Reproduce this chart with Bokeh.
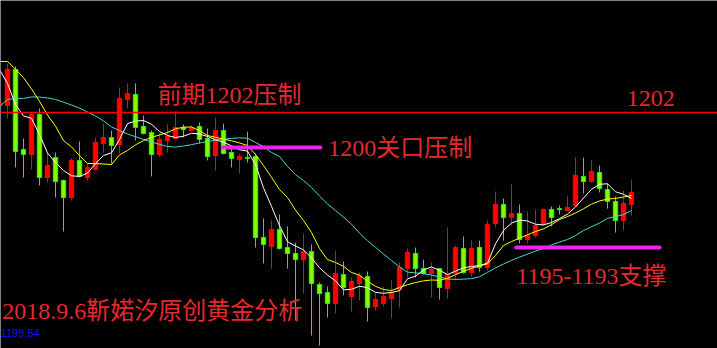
from bokeh.plotting import figure
from bokeh.models import ColumnDataSource, Range1d, Label
from bokeh.embed import file_html
from bokeh.resources import INLINE

# ---- data ----
opens = [1202.35, 1202.35, 1204.47, 1199.76, 1199.47, 1201.82, 1198.12, 1199.29, 1197.94, 1196.94,
         1199.12, 1198.12, 1198.59, 1200.12, 1200.47, 1200.06, 1202.71, 1203.00, 1201.12, 1200.76,
         1199.47, 1200.29, 1200.41, 1201.06, 1200.88, 1201.12, 1200.41, 1199.41, 1200.88, 1199.59,
         1199.18, 1199.29, 1199.35, 1194.59, 1194.06, 1195.06, 1194.00, 1193.65, 1193.29, 1193.76,
         1191.82, 1191.35, 1190.71, 1192.41, 1191.12, 1191.88, 1192.29, 1190.53, 1190.71, 1191.00,
         1191.53, 1192.76, 1193.65, 1192.76, 1192.47, 1192.76, 1191.59, 1192.47, 1193.94, 1192.53,
         1194.00, 1192.82, 1195.41, 1196.53, 1195.76, 1196.00, 1194.47, 1194.71, 1195.35, 1196.24,
         1196.29, 1196.18, 1196.47, 1198.18, 1197.88, 1198.41, 1197.41, 1196.71, 1195.59, 1196.53]
highs = [1202.59, 1204.82, 1204.65, 1200.41, 1201.94, 1202.18, 1199.59, 1199.59, 1198.00, 1199.24,
         1200.24, 1198.94, 1200.47, 1201.29, 1200.88, 1203.41, 1203.65, 1203.65, 1201.76, 1200.88,
         1200.71, 1201.24, 1202.00, 1201.24, 1201.18, 1201.35, 1201.00, 1201.65, 1201.29, 1199.88,
         1199.53, 1200.82, 1199.53, 1195.71, 1195.59, 1195.94, 1195.24, 1194.29, 1194.82, 1194.18,
         1191.94, 1191.71, 1193.82, 1193.18, 1192.24, 1192.53, 1192.59, 1191.35, 1191.71, 1192.06,
         1193.12, 1193.94, 1194.00, 1193.29, 1193.12, 1192.76, 1195.18, 1194.12, 1194.65, 1194.41,
         1194.41, 1195.59, 1197.29, 1196.88, 1197.71, 1196.53, 1196.12, 1196.24, 1196.29, 1196.41,
         1196.47, 1197.06, 1199.29, 1199.29, 1199.12, 1198.82, 1197.76, 1197.00, 1197.35, 1198.00]
lows = [1202.24, 1201.59, 1198.71, 1198.12, 1198.59, 1197.65, 1197.82, 1196.94, 1194.94, 1196.76,
        1198.12, 1197.94, 1198.53, 1199.59, 1198.94, 1199.53, 1202.18, 1200.29, 1200.65, 1198.18,
        1199.35, 1199.59, 1200.35, 1200.47, 1200.82, 1200.12, 1199.12, 1198.53, 1199.47, 1198.71,
        1198.35, 1199.00, 1194.00, 1193.06, 1192.76, 1193.88, 1192.76, 1189.71, 1191.29, 1188.82,
        1188.24, 1189.88, 1190.12, 1191.18, 1190.24, 1190.88, 1189.65, 1190.29, 1190.53, 1189.82,
        1190.47, 1192.24, 1192.24, 1192.41, 1191.06, 1190.94, 1191.00, 1192.06, 1192.47, 1192.29,
        1192.59, 1192.65, 1195.18, 1194.41, 1195.29, 1194.24, 1194.24, 1194.59, 1195.29, 1195.24,
        1195.94, 1196.12, 1196.41, 1197.18, 1197.82, 1197.24, 1196.29, 1194.88, 1195.00, 1195.88]
closes = [1202.53, 1204.47, 1199.65, 1199.47, 1201.82, 1198.12, 1198.82, 1197.88, 1196.94, 1199.12,
          1198.18, 1198.71, 1200.18, 1200.47, 1200.00, 1202.76, 1203.06, 1201.06, 1200.71, 1199.47,
          1200.35, 1200.53, 1201.06, 1200.94, 1201.06, 1200.35, 1199.35, 1200.88, 1199.53, 1199.24,
          1199.35, 1199.24, 1194.59, 1194.18, 1195.06, 1193.94, 1193.65, 1193.29, 1193.76, 1191.88,
          1191.29, 1190.71, 1192.47, 1191.65, 1192.00, 1192.35, 1190.47, 1190.94, 1191.12, 1191.35,
          1192.82, 1193.71, 1192.76, 1192.47, 1192.71, 1191.65, 1192.41, 1194.00, 1192.53, 1193.94,
          1192.82, 1195.35, 1196.53, 1195.76, 1196.00, 1194.47, 1194.71, 1195.29, 1196.24, 1195.76,
          1196.24, 1196.35, 1198.24, 1197.88, 1198.47, 1197.47, 1196.71, 1195.59, 1196.59, 1197.24]
ma_white = [1204.47, 1203.65, 1202.41, 1201.74, 1201.60, 1200.65, 1199.56, 1199.00, 1198.53, 1198.22,
            1198.18, 1198.38, 1198.94, 1199.41, 1199.57, 1200.35, 1201.29, 1201.44, 1201.47, 1201.25,
            1200.82, 1200.59, 1200.47, 1200.55, 1200.72, 1200.68, 1200.53, 1200.34, 1200.19, 1199.98,
            1199.75, 1199.67, 1198.88, 1197.51, 1196.42, 1195.28, 1194.34, 1194.09, 1193.86, 1193.39,
            1192.81, 1192.38, 1192.04, 1191.51, 1191.54, 1191.72, 1191.64, 1191.36, 1191.31, 1191.36,
            1191.46, 1192.16, 1192.31, 1192.68, 1192.86, 1192.66, 1192.41, 1192.61, 1192.81, 1192.88,
            1192.94, 1193.08, 1194.22, 1195.00, 1195.44, 1195.61, 1195.56, 1195.37, 1195.33, 1195.47,
            1195.70, 1195.97, 1196.39, 1196.91, 1197.42, 1197.72, 1197.75, 1197.28, 1197.13, 1196.88]
ma_yellow = [1204.94, 1204.94, 1204.49, 1203.99, 1203.33, 1202.60, 1201.79, 1201.14, 1200.29, 1199.92,
             1199.40, 1198.94, 1198.94, 1198.91, 1198.88, 1199.45, 1199.71, 1200.04, 1200.29, 1200.48,
             1200.62, 1200.77, 1200.98, 1201.08, 1201.09, 1200.87, 1200.59, 1200.48, 1200.38, 1200.28,
             1200.15, 1200.00, 1199.47, 1198.82, 1198.13, 1197.41, 1196.94, 1196.20, 1195.59, 1194.88,
             1193.94, 1193.29, 1193.12, 1192.89, 1192.53, 1192.37, 1192.01, 1191.72, 1191.53, 1191.47,
             1191.65, 1191.81, 1191.94, 1192.04, 1192.09, 1192.07, 1192.19, 1192.40, 1192.61, 1192.77,
             1192.92, 1193.04, 1193.53, 1194.12, 1194.35, 1194.55, 1194.75, 1194.94, 1195.10, 1195.34,
             1195.65, 1195.82, 1196.03, 1196.28, 1196.55, 1196.74, 1196.85, 1196.89, 1196.97, 1197.06]
ma_cyan = [1202.29, 1202.71, 1202.77, 1202.77, 1202.86, 1202.85, 1202.80, 1202.71, 1202.55, 1202.38,
           1202.20, 1201.97, 1201.74, 1201.45, 1201.09, 1200.88, 1200.68, 1200.52, 1200.36, 1200.21,
           1200.07, 1199.94, 1199.91, 1199.97, 1200.05, 1200.15, 1200.24, 1200.32, 1200.37, 1200.42,
           1200.45, 1200.43, 1200.18, 1199.94, 1199.59, 1199.35, 1198.77, 1198.29, 1197.94, 1197.53,
           1197.03, 1196.56, 1196.18, 1195.79, 1195.37, 1194.84, 1194.41, 1194.01, 1193.62, 1193.24,
           1192.86, 1192.55, 1192.51, 1192.46, 1192.38, 1192.27, 1192.15, 1192.12, 1192.14, 1192.17,
           1192.28, 1192.54, 1192.80, 1193.03, 1193.24, 1193.44, 1193.61, 1193.79, 1193.94, 1194.15,
           1194.32, 1194.47, 1194.71, 1195.00, 1195.22, 1195.44, 1195.72, 1195.82, 1195.94, 1196.18]

level_resist = 1201.94          # 前期1202压制 line
level_1200 = 1199.88            # 1200关口压制 segment
level_support = 1194.0          # 1195-1193支撑 segment
seg_1200 = (27.9, 40.1)         # bar-index span of the 1200 segment
seg_support = (64.6, 82.5)      # bar-index span of the support segment

# ---- figure ----
idx = list(range(len(opens)))
up = [c >= o for o, c in zip(opens, closes)]
RED = "#FF0000"
GREEN_FILL = "#80FF00"
GREEN_LINE = "#22EE22"

src = ColumnDataSource(dict(
    x=idx,
    top=[max(o, c) for o, c in zip(opens, closes)],
    bottom=[min(o, c) for o, c in zip(opens, closes)],
    high=highs, low=lows,
    wick=[RED if u else GREEN_LINE for u in up],
    fill=[RED if u else GREEN_FILL for u in up],
    edge=[RED if u else GREEN_LINE for u in up],
))

p = figure(width=717, height=348, output_backend="svg", toolbar_location=None,
           x_axis_location=None, y_axis_location=None,
           x_range=Range1d(0.125, 89.75), y_range=Range1d(1188.06, 1208.53),
           min_border=0, background_fill_color="black", border_fill_color="black",
           outline_line_color=None)
p.grid.visible = False

p.segment(x0="x", y0="high", x1="x", y1="low", color="wick", line_width=1, source=src)
p.vbar(x="x", width=0.55, top="top", bottom="bottom", fill_color="fill",
       line_color="edge", line_width=1, source=src)

p.line(idx, ma_cyan, color="#46D6CE", line_width=1)
p.line(idx, ma_yellow, color="#FFFF00", line_width=1)
p.line(idx, ma_white, color="#FFFFFF", line_width=1)

p.line([-5, 100], [level_resist, level_resist], color=RED, line_width=1.5)
p.line(list(seg_1200), [level_1200, level_1200], color="#EE22EE", line_width=4, line_cap="round")
p.line(list(seg_support), [level_support, level_support], color="#EE22EE", line_width=4, line_cap="round")

FONT = "Liberation Serif, Noto Sans CJK SC"
TXT = "#E8282E"
labels = [
    ("前期1202压制", 19.75, 1203.0, 24),
    ("1202", 78.4, 1202.76, 24),
    ("1200关口压制", 41.1, 1199.85, 24),
    ("1195-1193支撑", 64.6, 1192.35, 24),
    ("2018.9.6靳婼汐原创黄金分析", 0.35, 1190.24, 24),
]
for t, lx, ly, fs in labels:
    p.add_layout(Label(x=lx, y=ly, text=t, text_color=TXT, text_font=FONT,
                       text_font_size=f"{fs}px", text_baseline="middle", text_align="left"))
p.add_layout(Label(x=0.15, y=1188.97, text="1199.54", text_color="#1010FF",
                   text_font="Liberation Sans", text_font_size="11px",
                   text_baseline="middle", text_align="left"))

open("out.html", "w").write(file_html(p, INLINE))
